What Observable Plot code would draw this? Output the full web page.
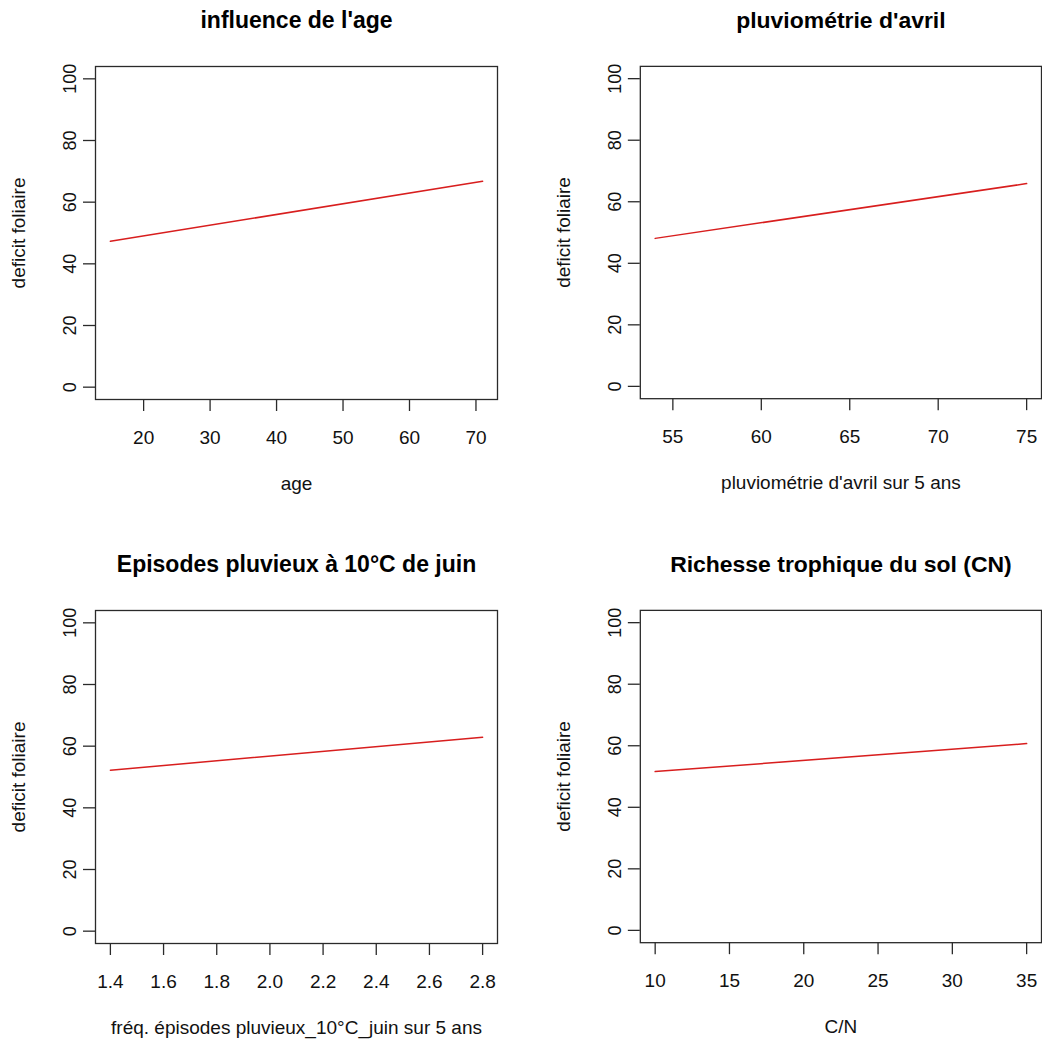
<!DOCTYPE html>
<html>
<head>
<meta charset="utf-8">
<script src="https://cdn.jsdelivr.net/npm/d3@7"></script>
<script src="https://cdn.jsdelivr.net/npm/@observablehq/plot@0.6"></script>
<style>
  html, body { margin: 0; padding: 0; background: #fff; overflow: hidden; }
  #wrap { position: relative; width: 1042px; height: 1043px; background: #fff; }
  .panel { position: absolute; }
  .panel svg { overflow: visible; }
</style>
</head>
<body>
<div id="wrap"></div>
<script>
// ---- data ----
const titles = ["influence de l'age", "pluviométrie d'avril", "Episodes pluvieux à 10°C de juin", "Richesse trophique du sol (CN)"];
const xTitles = ["age", "pluviométrie d'avril sur 5 ans", "fréq. épisodes pluvieux_10°C_juin sur 5 ans", "C/N"];
const yTitle = "deficit foliaire";

const ageX = [15, 71];
const ageY = [47.3, 66.8];
const avrilX = [54, 75];
const avrilY = [48.1, 65.9];
const juinX = [1.4, 2.8];
const juinY = [52.2, 62.9];
const cnX = [10, 35];
const cnY = [51.6, 60.7];

const ageTicks = [20, 30, 40, 50, 60, 70];
const avrilTicks = [55, 60, 65, 70, 75];
const juinTicks = [1.4, 1.6, 1.8, 2.0, 2.2, 2.4, 2.6, 2.8];
const cnTicks = [10, 15, 20, 25, 30, 35];
const yTicks = [0, 20, 40, 60, 80, 100];
const yLimits = [0, 100];

// ---- drawing ----
const FONT = "'Liberation Sans', Arial, Helvetica, sans-serif";
const panels = [
  {xs: ageX, ys: ageY, ticks: ageTicks, fmt: d => String(d), left: 0, top: 0, width: 521, mr: 24},
  {xs: avrilX, ys: avrilY, ticks: avrilTicks, fmt: d => String(d), left: 545, top: 0, width: 498, mr: 1},
  {xs: juinX, ys: juinY, ticks: juinTicks, fmt: d => d.toFixed(1), left: 0, top: 544, width: 521, mr: 24},
  {xs: cnX, ys: cnY, ticks: cnTicks, fmt: d => String(d), left: 545, top: 544, width: 498, mr: 1}
];

function rExtend([a, b]) {
  const e = (b - a) * 0.04;
  return [a - e, b + e];
}

const wrap = document.getElementById("wrap");
panels.forEach((p, i) => {
  const data = p.xs.map((x, j) => ({x, y: p.ys[j]}));
  const chart = Plot.plot({
    width: p.width,
    height: 500,
    marginLeft: 95,
    marginRight: p.mr,
    marginTop: 66,
    marginBottom: 101,
    style: {fontFamily: FONT, background: "transparent", color: "#111"},
    x: {domain: rExtend(d3.extent(p.xs)), axis: null},
    y: {domain: rExtend(yLimits), axis: null},
    marks: [
      Plot.frame({stroke: "#2a2a2a", strokeWidth: 1.3}),
      Plot.axisX(p.ticks, {tickFormat: p.fmt, tickSize: 12, tickPadding: 19, fontSize: 19, label: null, stroke: "#2a2a2a", strokeWidth: 1.3, fill: "#111"}),
      Plot.axisY(yTicks, {tickSize: 12, tickFormat: () => "", label: null, stroke: "#2a2a2a", strokeWidth: 1.3}),
      Plot.text(yTicks, {y: d => d, frameAnchor: "left", dx: -25, rotate: -90, textAnchor: "middle", lineAnchor: "middle", text: d => String(d), fontSize: 18, fill: "#111"}),
      Plot.line(data, {x: "x", y: "y", stroke: "#d81e1e", strokeWidth: 1.5}),
      Plot.text([titles[i]], {frameAnchor: "top", dy: -46, lineAnchor: "middle", fontSize: 23, fontWeight: "bold", fill: "#000"}),
      Plot.text([xTitles[i]], {frameAnchor: "bottom", dy: 84, lineAnchor: "middle", fontSize: 19, fill: "#111"}),
      Plot.text([yTitle], {frameAnchor: "left", dx: -77, rotate: -90, lineAnchor: "middle", textAnchor: "middle", fontSize: 19, fill: "#111"})
    ]
  });
  const div = document.createElement("div");
  div.className = "panel";
  div.style.left = p.left + "px";
  div.style.top = p.top + "px";
  div.appendChild(chart);
  wrap.appendChild(div);
});
</script>
</body>
</html>
